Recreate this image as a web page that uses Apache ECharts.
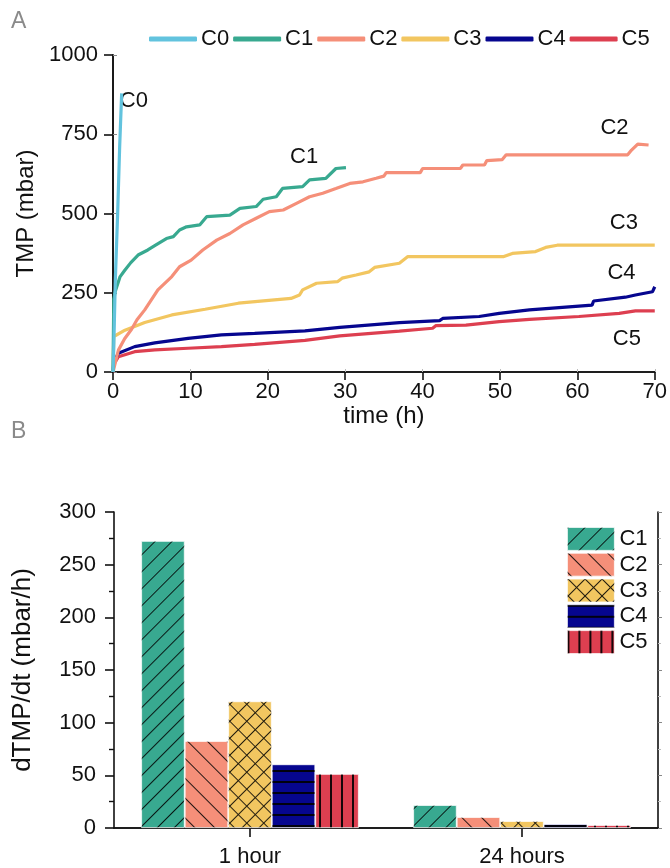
<!DOCTYPE html>
<html>
<head>
<meta charset="utf-8">
<script src="https://cdn.jsdelivr.net/npm/echarts@6/dist/echarts.min.js"></script>
<style>
  html, body { margin: 0; padding: 0; background: #fff; }
  #chart { width: 670px; height: 868px; }
</style>
</head>
<body>
<div id="chart"></div>
<script>
// ---- panel A: TMP vs time, [time (h), TMP (mbar)] ----
const names = ['C0', 'C1', 'C2', 'C3', 'C4', 'C5']
const colors = ['#62c3de', '#38a990', '#f58f79', '#f2c660', '#06068f', '#dd3f50']

const c0 = [[0, 0], [0.1, 80], [0.3, 290], [0.6, 500], [0.86, 710], [1.12, 879]]
const c1 = [[0, 0], [0.1, 230], [0.3, 255], [0.9, 300], [1.5, 320], [2.3, 345], [3.3, 370], [4.5, 385],
  [5.5, 400], [6.9, 421], [7.8, 427], [8.6, 448], [9.5, 458], [11.2, 464], [12.1, 490], [15.1, 495],
  [16.4, 516], [18.5, 522], [19.4, 545], [21.1, 553], [21.9, 579], [24.5, 585], [25.4, 606],
  [27.5, 611], [28.8, 642], [30.1, 645]]
const c2 = [[0, 0], [0.7, 69], [1.5, 105], [2.4, 135], [3.1, 165], [4.1, 196], [5.8, 259], [7.6, 301],
  [8.6, 332], [10.1, 353], [11.6, 385], [13.4, 416], [15.1, 437], [16.8, 464], [18.5, 485], [20.2, 506],
  [22.0, 511], [23.7, 532], [25.4, 553], [27.1, 564], [28.8, 579], [30.6, 595], [32.3, 600], [34.0, 611],
  [35.0, 618], [35.3, 629], [39.7, 629], [40.0, 642], [44.9, 642], [45.2, 653], [48.0, 653], [48.3, 667],
  [50.3, 670], [50.8, 685], [66.5, 685], [67.0, 700], [67.8, 719], [69.2, 716]]
const c3 = [[0, 0], [0.1, 112], [0.3, 117], [1.55, 132], [4.1, 156], [7.6, 180], [11.9, 198], [16.2, 217],
  [20.5, 227], [23.0, 232], [24.1, 243], [24.5, 259], [26.3, 280], [29.0, 285], [29.6, 296], [31.4, 306],
  [33.1, 316], [33.8, 330], [37.0, 343], [38.1, 364], [50.5, 364], [51.6, 374], [54.6, 380], [55.9, 393],
  [57.4, 400], [70, 400]]
const c4 = [[0, 0], [0.1, 30], [0.69, 59], [2.8, 80], [5.4, 92], [9.7, 106], [14.0, 117], [18.3, 122],
  [24.8, 130], [29.3, 141], [37.0, 156], [42.2, 162], [42.6, 169], [47.3, 175], [49.9, 185], [53.8, 196],
  [60.2, 208], [61.9, 211], [62.1, 224], [66.2, 236], [67.5, 243], [69.7, 253], [70, 269]]
const c5 = [[0, 0], [0.1, 25], [0.69, 48], [2.8, 64], [5.4, 70], [9.7, 75], [14.0, 80], [18.3, 87],
  [24.8, 100], [29.3, 114], [37.0, 129], [41.3, 138], [41.7, 146], [45.6, 148], [49.9, 159], [53.8, 166],
  [60.2, 175], [65.4, 185], [67.5, 193], [70, 193]]
const curves = [c0, c1, c2, c3, c4, c5]

// where each curve's name is written inside panel A (data coords)
const curveLabels = [[2.7, 855], [24.7, 678], [64.8, 770], [66.0, 470], [65.7, 314], [66.4, 104]]

// ---- panel B: dTMP/dt bars ----
const periods = ['1 hour', '24 hours']
const rateC1 = [272.5, 21.8]
const rateC2 = [82.6, 10.4]
const rateC3 = [120.3, 6.6]
const rateC4 = [60.5, 3.8]
const rateC5 = [51.3, 2.8]
const rates = [rateC1, rateC2, rateC3, rateC4, rateC5]

const font = 'Liberation Sans, Arial, sans-serif'
const fs = 22
const ink = '#111'

const hatch = 'rgba(0,0,0,0.85)'
const decals = [
  // C1 "/"
  { symbol: 'rect', symbolSize: 1, symbolKeepAspect: false, color: hatch, dashArrayX: [1, 11], dashArrayY: [12, 0], rotation: Math.PI / 4 },
  // C2 "\"
  { symbol: 'rect', symbolSize: 1, symbolKeepAspect: false, color: hatch, dashArrayX: [1, 13], dashArrayY: [14, 0], rotation: -Math.PI / 4 },
  // C3 cross hatch
  { symbol: 'rect', symbolSize: 1, symbolKeepAspect: false, color: hatch, dashArrayX: [[12, 0], [1, 11], [1, 11], [1, 11], [1, 11], [1, 11], [1, 11], [1, 11], [1, 11], [1, 11], [1, 11], [1, 11]], dashArrayY: [1, 0], rotation: Math.PI / 4 },
  // C4 horizontal
  { symbol: 'rect', symbolSize: 1, symbolKeepAspect: false, color: 'rgba(0,0,0,0.9)', dashArrayX: [1, 0], dashArrayY: [2, 9], rotation: 0 },
  // C5 vertical
  { symbol: 'rect', symbolSize: 1, symbolKeepAspect: false, color: 'rgba(0,0,0,0.9)', dashArrayX: [2, 9], dashArrayY: [1, 0], rotation: 0 }
]

const chart = echarts.init(document.getElementById('chart'), null, { renderer: 'canvas' })

const axisText = { color: ink, fontFamily: font, fontSize: fs }
const nameText = { color: ink, fontFamily: font, fontSize: 24 }
const blackLine = { show: true, lineStyle: { color: ink, width: 1.6 } }
const plain = (v) => String(v)

const lineSeries = curves.map((data, i) => ({
  name: names[i],
  type: 'line',
  xAxisIndex: 0,
  yAxisIndex: 0,
  data: data,
  showSymbol: false,
  symbol: 'none',
  lineStyle: { color: colors[i], width: 3.2 },
  itemStyle: { color: colors[i] },
  z: 10 - i,
  animation: false,
  markPoint: {
    symbol: 'circle',
    symbolSize: 0,
    silent: true,
    label: { show: true, position: 'inside', color: ink, fontFamily: font, fontSize: fs, formatter: names[i] },
    data: [{ coord: curveLabels[i] }]
  }
}))

const barSeries = rates.map((data, i) => ({
  name: names[i + 1],
  type: 'bar',
  xAxisIndex: 2,
  yAxisIndex: 2,
  data: data,
  barGap: '0%',
  barCategoryGap: '20%',
  itemStyle: { color: colors[i + 1], borderColor: 'rgba(255,255,255,0.6)', borderWidth: 0.8, decal: decals[i] },
  animation: false
}))

chart.setOption({
  backgroundColor: '#fff',
  animation: false,
  graphic: [
    { type: 'text', left: 11, top: 10, style: { text: 'A', fill: '#8a8a8a', font: '23px ' + font } },
    { type: 'text', left: 11, top: 420, style: { text: 'B', fill: '#8a8a8a', font: '23px ' + font } }
  ],
  legend: [
    {
      data: names.map((n) => ({ name: n, icon: 'roundRect' })),
      left: 144,
      top: 23,
      itemWidth: 48,
      itemHeight: 5,
      itemGap: 4,
      textStyle: { color: ink, fontFamily: font, fontSize: fs, padding: [0, 0, 0, -1] }
    },
    {
      data: names.slice(1).map((n, i) => ({
        name: n,
        icon: 'rect',
        itemStyle: { color: colors[i + 1], borderColor: 'rgba(255,255,255,0.6)', borderWidth: 0.8, decal: decals[i] }
      })),
      orient: 'vertical',
      left: 562,
      top: 522,
      itemWidth: 47,
      itemHeight: 23,
      itemGap: 2,
      textStyle: { color: ink, fontFamily: font, fontSize: fs, lineHeight: 23 }
    }
  ],
  grid: [
    { left: 113, right: 14, top: 55, height: 317 },
    { left: 114, right: 12, top: 512, height: 316 }
  ],
  xAxis: [
    {
      type: 'value', gridIndex: 0, min: 0, max: 70, interval: 10,
      name: 'time (h)', nameLocation: 'middle', nameGap: 26, nameTextStyle: nameText,
      axisLine: blackLine, axisTick: { show: true, inside: false, length: 8, lineStyle: { color: ink, width: 1.6 } },
      axisLabel: Object.assign({ margin: 9, formatter: plain }, axisText), splitLine: { show: false }
    },
    {
      type: 'value', gridIndex: 0, position: 'top', min: 0, max: 70, interval: 10,
      axisLine: blackLine, axisTick: { show: true, length: 3, lineStyle: { color: '#bbb' } },
      axisLabel: { show: false }, splitLine: { show: false }
    },
    {
      type: 'category', gridIndex: 1, data: periods,
      axisLine: blackLine, axisTick: { show: true, alignWithLabel: true, length: 9, lineStyle: { color: ink, width: 1.6 } },
      axisLabel: Object.assign({ margin: 18 }, axisText)
    },
    {
      type: 'category', gridIndex: 1, position: 'top', data: periods,
      axisLine: blackLine, axisTick: { show: true, alignWithLabel: true, length: 3, lineStyle: { color: '#bbb' } },
      axisLabel: { show: false }
    }
  ],
  yAxis: [
    {
      type: 'value', gridIndex: 0, min: 0, max: 1000, interval: 250,
      name: 'TMP (mbar)', nameLocation: 'middle', nameGap: 74, nameRotate: 90, nameTextStyle: nameText,
      axisLine: blackLine, axisTick: { show: true, length: 9, lineStyle: { color: ink, width: 1.6 } },
      axisLabel: Object.assign({ margin: 15, formatter: plain }, axisText), splitLine: { show: false }
    },
    {
      type: 'value', gridIndex: 0, position: 'right', min: 0, max: 1000, interval: 250,
      axisLine: blackLine, axisTick: { show: true, length: 4, lineStyle: { color: '#888' } },
      axisLabel: { show: false }, splitLine: { show: false }
    },
    {
      type: 'value', gridIndex: 1, min: 0, max: 300, interval: 50,
      name: 'dTMP/dt (mbar/h)', nameLocation: 'middle', nameGap: 78, nameRotate: 90,
      nameTextStyle: { color: ink, fontFamily: font, fontSize: 26 },
      axisLine: blackLine, axisTick: { show: true, length: 9, lineStyle: { color: ink, width: 1.6 } },
      minorTick: { show: true, splitNumber: 2, length: 5, lineStyle: { color: ink, width: 1.4 } },
      axisLabel: Object.assign({ margin: 18 }, axisText), splitLine: { show: false }
    },
    {
      type: 'value', gridIndex: 1, position: 'right', min: 0, max: 300, interval: 50,
      axisLine: blackLine, axisTick: { show: true, length: 4, lineStyle: { color: '#888' } },
      minorTick: { show: true, splitNumber: 2, length: 3, lineStyle: { color: '#bbb' } },
      axisLabel: { show: false }, splitLine: { show: false }
    }
  ],
  series: lineSeries.concat(barSeries)
})

window.addEventListener('resize', () => {
  chart.resize()
})
</script>
</body>
</html>
